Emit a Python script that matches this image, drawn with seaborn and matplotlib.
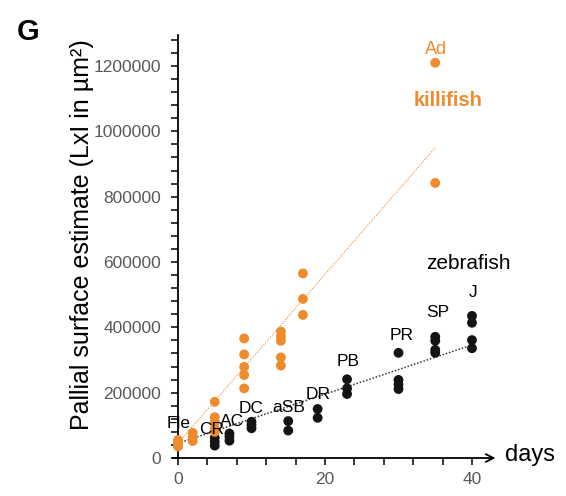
import numpy as np
import pandas as pd
import matplotlib
matplotlib.use("Agg")
import matplotlib.pyplot as plt
import seaborn as sns
from matplotlib.ticker import MultipleLocator

# ---- data ----
killi_days = [0, 0, 0, 2, 2, 2, 5, 5, 5, 5, 5, 9, 9, 9, 9, 9,
              14, 14, 14, 14, 14, 17, 17, 17, 35, 35]
killi_area = [55000, 45000, 35000, 77000, 64000, 52000,
              172000, 125000, 110000, 90000, 80000,
              366000, 317000, 279000, 254000, 213000,
              387000, 372000, 359000, 308000, 283000,
              565000, 487000, 438000, 1210000, 842000]

zebra_days = [5, 5, 5, 7, 7, 7, 10, 10, 10, 15, 15, 19, 19,
              23, 23, 23, 30, 30, 30, 30, 35, 35, 35, 35, 40, 40, 40, 40]
zebra_area = [62000, 50000, 38000, 75000, 65000, 53000,
              111000, 101000, 91000, 113000, 84000, 150000, 123000,
              241000, 213000, 196000, 322000, 239000, 225000, 211000,
              371000, 359000, 331000, 322000, 435000, 414000, 361000, 336000]

# trend lines
killi_trend_x = [0, 35]
killi_trend_y = [45000, 950000]
zebra_trend_x = [0, 40]
zebra_trend_y = [45000, 346000]

stage_labels = ["Fle", "CR", "AC", "DC", "aSB", "DR", "PB", "PR", "SP", "J"]
stage_x = [0.15, 4.6, 7.3, 9.9, 15.0, 19.0, 23.1, 30.4, 35.4, 40.1]
stage_y = [107000, 86000, 113000, 153000, 156000, 193000, 294000, 376000, 444000, 508000]

x_ticks = [0, 20, 40]
y_ticks = [0, 200000, 400000, 600000, 800000, 1000000, 1200000]

ORANGE = "#EF8A2D"
BLACK = "#141414"

df = pd.DataFrame({
    "days": zebra_days + killi_days,
    "area": zebra_area + killi_area,
    "species": ["zebrafish"] * len(zebra_days) + ["killifish"] * len(killi_days),
})

sns.set_style("white")
plt.rcParams["font.family"] = ["Liberation Sans", "DejaVu Sans"]
plt.rcParams.update({
    "xtick.labelsize": 12.5, "ytick.labelsize": 12.5,
    "xtick.labelcolor": "#595959", "ytick.labelcolor": "#595959",
    "xtick.color": "black", "ytick.color": "black",
    "xtick.direction": "out", "ytick.direction": "out",
    "xtick.major.size": 5, "ytick.major.size": 5,
    "xtick.minor.size": 5, "ytick.minor.size": 5,
    "xtick.major.width": 1.1, "ytick.major.width": 1.1,
    "xtick.minor.width": 1.1, "ytick.minor.width": 1.1,
    "xtick.major.pad": 5, "ytick.major.pad": 7,
    "xtick.bottom": True, "ytick.left": True,
})

fig = plt.figure(figsize=(5.66, 4.96), dpi=100)
ax = fig.add_axes([178 / 566, 38 / 496, 317.5 / 566, 423 / 496])

# trend lines
sns.lineplot(x=zebra_trend_x, y=zebra_trend_y, ax=ax, color="#333333",
             linestyle=(0, (1, 1.2)), linewidth=1.1, zorder=1)
sns.lineplot(x=killi_trend_x, y=killi_trend_y, ax=ax, color=ORANGE,
             linestyle=(0, (1, 1.3)), linewidth=0.8, zorder=1)

sns.scatterplot(data=df, x="days", y="area", hue="species",
                palette={"zebrafish": BLACK, "killifish": ORANGE},
                s=50, linewidth=0, ax=ax, legend=False, zorder=3, clip_on=False)

for s in ["top", "right", "bottom"]:
    ax.spines[s].set_visible(False)
ax.spines["left"].set_color("black")
ax.spines["left"].set_linewidth(1.3)

ax.set_xlim(0, 43.2)
ax.set_ylim(0, 1295000)
ax.set_xticks(x_ticks)
ax.set_yticks(y_ticks)
ax.set_xticklabels([str(v) for v in x_ticks])
ax.set_yticklabels([str(v) for v in y_ticks])
ax.xaxis.set_minor_locator(MultipleLocator(4))
ax.yaxis.set_minor_locator(MultipleLocator(40000))

# x axis arrow
ax.annotate("", xy=(43.2, 0), xytext=(-0.7, 0), xycoords="data",
            arrowprops=dict(arrowstyle="->", lw=1.3, color="black",
                            mutation_scale=14, shrinkA=0, shrinkB=0),
            annotation_clip=False)
ax.text(47.9, 8000, "days", fontsize=17, ha="center", va="center", color="black",
        clip_on=False)

ax.set_xlabel("")
ax.set_ylabel("")
fig.text(82 / 566, 1 - 235 / 496, "Pallial surface estimate (LxI in µm²)",
         rotation=90, fontsize=18, ha="center", va="center", color="black")

for lab, xx, yy in zip(stage_labels, stage_x, stage_y):
    ax.text(xx, yy, lab, fontsize=12.5, ha="center", va="center", color="black",
            zorder=5, clip_on=False)

ax.text(39.5, 594000, "zebrafish", fontsize=15, ha="center", va="center",
        color="black")
ax.text(36.7, 1096000, "killifish", fontsize=14.5, fontweight="bold",
        ha="center", va="center", color=ORANGE)
ax.text(35.1, 1252000, "Ad", fontsize=13, ha="center", va="center", color=ORANGE)

fig.text(28 / 566, 1 - 32 / 496, "G", fontsize=21, fontweight="bold",
         ha="center", va="center", color="black")

fig.savefig("out.png", dpi=100)
